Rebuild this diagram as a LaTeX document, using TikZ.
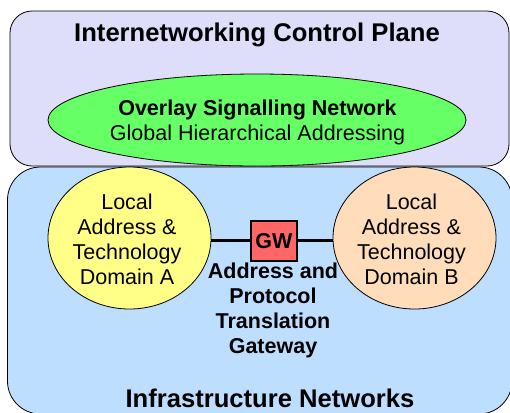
\documentclass[tikz,border=0pt]{standalone}
\usepackage{fontspec}
\setmainfont{Liberation Sans}
\usetikzlibrary{shapes.geometric}
\definecolor{planefill}{RGB}{222,222,250}
\definecolor{infrafill}{RGB}{190,222,255}
\definecolor{overlayfill}{RGB}{102,255,102}
\definecolor{domainAfill}{RGB}{255,255,136}
\definecolor{domainBfill}{RGB}{255,221,187}
\definecolor{gwfill}{RGB}{255,102,102}
\begin{document}
\begin{tikzpicture}[x=1bp,y=-1bp,
  panel/.style={draw=black,line width=0.8bp,rectangle,inner sep=0pt},
  oval/.style={draw=black,line width=0.8bp,ellipse,inner sep=0pt},
  gwbox/.style={draw=black,line width=1.8bp,fill=gwfill,rectangle,inner sep=0pt,
    minimum width=46bp,minimum height=40bp,font=\fontsize{21.5bp}{25bp}\selectfont\bfseries},
  link/.style={draw=black,line width=3bp},
  heading/.style={font=\fontsize{25.6bp}{30bp}\selectfont\bfseries,inner sep=0pt},
  body/.style={font=\fontsize{21.5bp}{25bp}\selectfont,align=center,inner sep=0pt},
  bodybold/.style={font=\fontsize{21.5bp}{25bp}\selectfont\bfseries,align=center,inner sep=0pt}]
\useasboundingbox (0,0) rectangle (510,412);

% control plane panel
\node[panel,fill=planefill,rounded corners=22bp,minimum width=499bp,minimum height=155bp]
  (plane) at (259.5,88.5) {};
% infrastructure panel
\node[panel,fill=infrafill,rounded corners=33bp,minimum width=504.5bp,minimum height=247bp]
  (infra) at (259.75,290.5) {};

% overlay signalling ellipse
\node[oval,fill=overlayfill,minimum width=418bp,minimum height=92bp] (overlay) at (257,120) {};

% local domains
\node[oval,fill=domainAfill,minimum width=163bp,minimum height=142bp] (domA) at (129.5,238) {};
\node[oval,fill=domainBfill,minimum width=163bp,minimum height=142bp] (domB) at (414.5,238) {};

% gateway and its links
\node[gwbox] (gw) at (274,241) {GW};
\draw[link] (domA.east |- 0,240) -- (gw.west |- 0,240);
\draw[link] (gw.east |- 0,240) -- (domB.west |- 0,240);

% texts
\node[heading] (planetitle) at (257,35) {Internetworking Control Plane};
\node[heading] (infratitle) at (270,398) {Infrastructure Networks};
\node[body] (overlaytext) at (257.5,122.5) {\textbf{Overlay Signalling Network}\\Global Hierarchical Addressing};
\node[body] (domAtext) at (127,239.5) {Local\\Address \&\\Technology\\Domain A};
\node[body] (domBtext) at (411.5,239.5) {Local\\Address \&\\Technology\\Domain B};
\node[bodybold] (gwtext) at (273,310) {Address and\\Protocol\\Translation\\Gateway};
\end{tikzpicture}
\end{document}
